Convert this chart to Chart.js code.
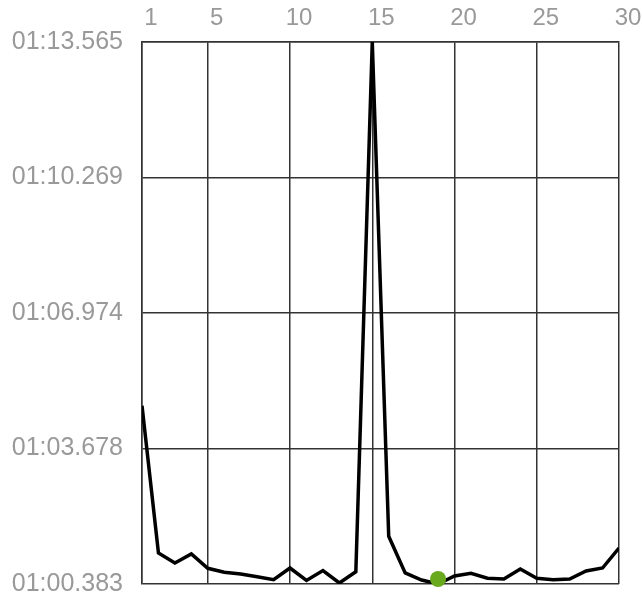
<!DOCTYPE html>
<html>
<head>
<meta charset="utf-8">
<script src="https://cdn.jsdelivr.net/npm/chart.js@4"></script>
<style>
  html, body { margin: 0; padding: 0; background: #fff; }
  #wrap { width: 642px; height: 600px; }
</style>
</head>
<body>
<div id="wrap"><canvas id="lapChart" width="642" height="600"></canvas></div>
<script>
// Lap data (seconds)
const laps = [1,2,3,4,5,6,7,8,9,10,11,12,13,14,15,16,17,18,19,20,21,22,23,24,25,26,27,28,29,30];
const lapTimes = [64.719, 61.137, 60.894, 61.113, 60.765, 60.668, 60.626, 60.561, 60.488, 60.772,
                  60.468, 60.711, 60.407, 60.682, 73.565, 61.543, 60.651, 60.480, 60.383, 60.578,
                  60.643, 60.522, 60.505, 60.748, 60.522, 60.488, 60.505, 60.699, 60.772, 61.258];
const bestLaps = [19];
const bestLapMarks = [60.505];
const xTicks = [1, 5, 10, 15, 20, 25, 30];
const yTicks = [60.383, 63.678, 66.974, 70.269, 73.565];

function fmtTime(t) {
    const m = Math.floor(t / 60);
    const s = Math.round((t - m * 60) * 1000) / 1000;
    return String(m).padStart(2, '0') + ':' + s.toFixed(3).padStart(6, '0');
}

const gridColor = '#333';
const textColor = '#999';

const ctx = document.getElementById('lapChart').getContext('2d');
new Chart(ctx, {
    type: 'line',
    data: {
        datasets: [
            {
                data: bestLaps.map((l, i) => ({ x: l, y: bestLapMarks[i] })),
                showLine: false,
                pointRadius: 8,
                pointBackgroundColor: '#68a91e',
                pointBorderWidth: 0,
                clip: false
            },
            {
                data: laps.map((l, i) => ({ x: l, y: lapTimes[i] })),
                borderColor: '#000',
                borderWidth: 3.5,
                pointRadius: 0,
                tension: 0,
                fill: false
            }
        ]
    },
    options: {
        responsive: false,
        animation: false,
        devicePixelRatio: 1,
        layout: { padding: { left: 0, right: 23, top: 0, bottom: 16 } },
        plugins: { legend: { display: false }, tooltip: { enabled: false } },
        scales: {
            x: {
                type: 'linear',
                position: 'top',
                min: 1,
                max: 30,
                afterBuildTicks: axis => { axis.ticks = xTicks.map(v => ({ value: v })); },
                afterFit: axis => { axis.height = 42; axis.paddingLeft = 0; axis.paddingRight = 0; },
                grid: { color: gridColor, lineWidth: 1.5, drawTicks: false },
                border: { color: gridColor, width: 1.5 },
                ticks: {
                    color: textColor,
                    font: { family: 'Liberation Sans, Arial, sans-serif', size: 24 },
                    padding: 9,
                    labelOffset: 9,
                    maxRotation: 0,
                    autoSkip: false
                }
            },
            y: {
                type: 'linear',
                min: 60.383,
                max: 73.565,
                afterBuildTicks: axis => { axis.ticks = yTicks.map(v => ({ value: v })); },
                afterFit: axis => { axis.width = 142; axis.paddingTop = 0; axis.paddingBottom = 0; },
                grid: { color: gridColor, lineWidth: 1.5, drawTicks: false },
                border: { color: gridColor, width: 1.5 },
                ticks: {
                    color: textColor,
                    font: { family: 'Liberation Sans, Arial, sans-serif', size: 25 },
                    padding: 19,
                    autoSkip: false,
                    callback: v => fmtTime(v)
                }
            }
        }
    }
});
</script>
</body>
</html>
